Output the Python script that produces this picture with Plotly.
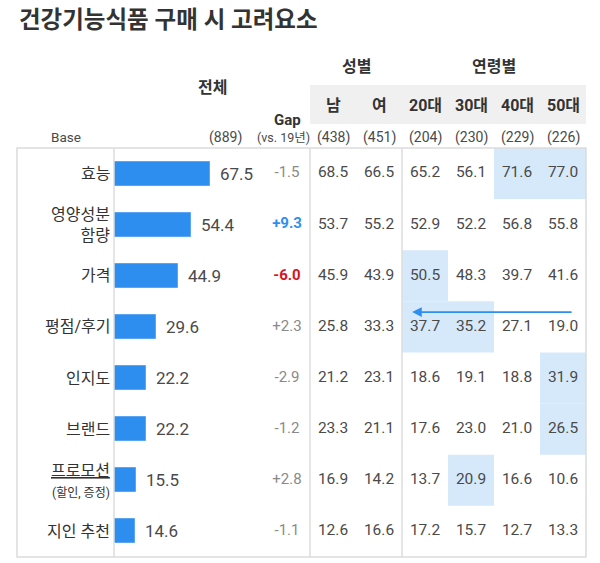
import plotly.graph_objects as go

# 데이터
factors = ["효능", "영양성분<br>함량", "가격", "평점/후기", "인지도", "브랜드",
           "<span style='text-decoration:underline'>프로모션</span><br><span style='font-size:12px'>(할인, 증정)</span>",
           "지인 추천"]
total = [67.5, 54.4, 44.9, 29.6, 22.2, 22.2, 15.5, 14.6]
gap = [-1.5, 9.3, -6.0, 2.3, -2.9, -1.2, 2.8, -1.1]
male = [68.5, 53.7, 45.9, 25.8, 21.2, 23.3, 16.9, 12.6]
female = [66.5, 55.2, 43.9, 33.3, 23.1, 21.1, 14.2, 16.6]
age20 = [65.2, 52.9, 50.5, 37.7, 18.6, 17.6, 13.7, 17.2]
age30 = [56.1, 52.2, 48.3, 35.2, 19.1, 23.0, 20.9, 15.7]
age40 = [71.6, 56.8, 39.7, 27.1, 18.8, 21.0, 16.6, 12.7]
age50 = [77.0, 55.8, 41.6, 19.0, 31.9, 26.5, 10.6, 13.3]

columns = ["Gap", "남", "여", "20대", "30대", "40대", "50대"]
bases = {"전체": 889, "남": 438, "여": 451, "20대": 204, "30대": 230, "40대": 229, "50대": 226}
# 강조 셀 (행, 열)
highlights = [(0, "40대"), (0, "50대"), (2, "20대"), (3, "20대"), (3, "30대"),
              (4, "50대"), (5, "50대"), (6, "30대")]

W, H = 600, 563
FONT = "Roboto, Noto Sans CJK KR, sans-serif"
TXT = "#4a4a4a"
DARK = "#333333"
BLUE = "#2E8EF0"
GRID = "#dcdcdc"


def px(x):
    return x / W


def py(y):
    return 1 - y / H


def label(x, y, text, size, color=TXT, xref="paper", yref="paper", **kw):
    d = dict(x=x, y=y, xref=xref, yref=yref, text=text, showarrow=False,
             xanchor="center", yanchor="middle",
             font=dict(family=FONT, size=size, color=color))
    d.update(kw)
    return d


rows = list(range(len(factors)))
fig = go.Figure()

# 전체 막대
fig.add_trace(go.Bar(
    x=total, y=rows, orientation="h", width=0.47,
    marker=dict(color=BLUE, line=dict(color="#5AA6F5", width=1)),
    xaxis="x", yaxis="y", hoverinfo="skip", showlegend=False,
))

# 표 숫자
table_cols = [male, female, age20, age30, age40, age50]
for ci, vals in enumerate(table_cols, start=1):
    fig.add_trace(go.Scatter(
        x=[ci] * len(vals), y=rows, mode="text",
        text=[f"{v:.1f}" for v in vals],
        textfont=dict(family=FONT, size=15.5, color=TXT),
        xaxis="x2", yaxis="y", hoverinfo="skip", showlegend=False,
    ))

# Gap 열
gap_text, gap_color = [], []
for g in gap:
    s = f"{g:+.1f}"
    if g >= 5:
        gap_text.append(f"<b>{s}</b>")
        gap_color.append("#2E8EF0")
    elif g <= -5:
        gap_text.append(f"<b>{s}</b>")
        gap_color.append("#D7141A")
    else:
        gap_text.append(s)
        gap_color.append("#8a8a8a")
fig.add_trace(go.Scatter(
    x=[0] * len(gap), y=rows, mode="text", text=gap_text,
    textfont=dict(family=FONT, size=15, color=gap_color),
    xaxis="x2", yaxis="y", hoverinfo="skip", showlegend=False,
))

annotations = []
# 막대 값
for i, v in enumerate(total):
    annotations.append(label(v, i, f"{v:.1f}", 17, xref="x", yref="y",
                             xanchor="left", xshift=8))
# 행 라벨
for i, f in enumerate(factors):
    annotations.append(label(px(112), i, f, 16, DARK, yref="y",
                             xanchor="right", align="right"))

# 헤더
annotations += [
    label(px(17), py(20), "<b>건강기능식품 구매 시 고려요소</b>", 23.5, DARK, xanchor="left"),
    label(px(212), py(88), "<b>전체</b>", 16, DARK),
    label(1.5, py(66), "<b>성별</b>", 16, DARK, xref="x2"),
    label(4.5, py(66), "<b>연령별</b>", 16, DARK, xref="x2"),
    label(0, py(120), "<b>Gap</b>", 15, DARK, xref="x2"),
    label(-0.08, py(137), "(vs. 19년)", 12.5, TXT, xref="x2"),
    label(px(66), py(137), "Base", 13.5, TXT),
    label(px(225), py(137), f"({bases['전체']})", 14, TXT),
]
for ci, c in enumerate(columns[1:], start=1):
    annotations.append(label(ci, py(105), f"<b>{c}</b>", 16, DARK, xref="x2"))
    annotations.append(label(ci, py(137), f"({bases[c]})", 14, TXT, xref="x2"))

# 화살표 (50대 → 20대)
annotations.append(dict(x=2.72, y=2.71, ax=6.22, ay=2.71, xref="x2", yref="y",
                        axref="x2", ayref="y", text="", showarrow=True,
                        arrowhead=2, arrowsize=1.2, arrowwidth=1.6, arrowcolor="#2E8EF0"))

shapes = []
# 헤더 회색 띠
shapes.append(dict(type="rect", xref="x2", yref="paper", x0=0.5, x1=6.5,
                   y0=py(124), y1=py(85), fillcolor="#f0f0f0", line=dict(width=0), layer="below"))
# 강조 셀
for r, c in highlights:
    ci = columns.index(c)
    shapes.append(dict(type="rect", xref="x2", yref="y", x0=ci - 0.5, x1=ci + 0.5,
                       y0=r - 0.5, y1=r + 0.5, fillcolor="#D6E9FB", line=dict(width=0), layer="below"))
# 표 테두리
shapes.append(dict(type="rect", xref="paper", yref="paper", x0=px(17), x1=px(586),
                   y0=py(557), y1=py(148), line=dict(color=GRID, width=1.5)))
for xv in [114, 310, 402]:
    shapes.append(dict(type="line", xref="paper", yref="paper", x0=px(xv), x1=px(xv),
                       y0=py(557), y1=py(148), line=dict(color=GRID, width=1.5)))

fig.update_layout(
    width=W, height=H,
    margin=dict(l=0, r=0, t=0, b=0),
    paper_bgcolor="white", plot_bgcolor="rgba(0,0,0,0)",
    xaxis=dict(domain=[px(114), px(264)], range=[0, 150 / 1.42], visible=False, fixedrange=True),
    xaxis2=dict(domain=[px(264), px(586)], range=[-0.5, 6.5], visible=False, fixedrange=True,
                anchor="y"),
    yaxis=dict(domain=[py(557), py(148)], range=[7.5, -0.5], visible=False, fixedrange=True),
    annotations=annotations,
    shapes=shapes,
    bargap=0,
)

# 브라우저 기본 여백 제거, 모드바 숨김
fig.write_html("out.html", config={"displayModeBar": False},
               post_script="document.body.style.margin='0';")
